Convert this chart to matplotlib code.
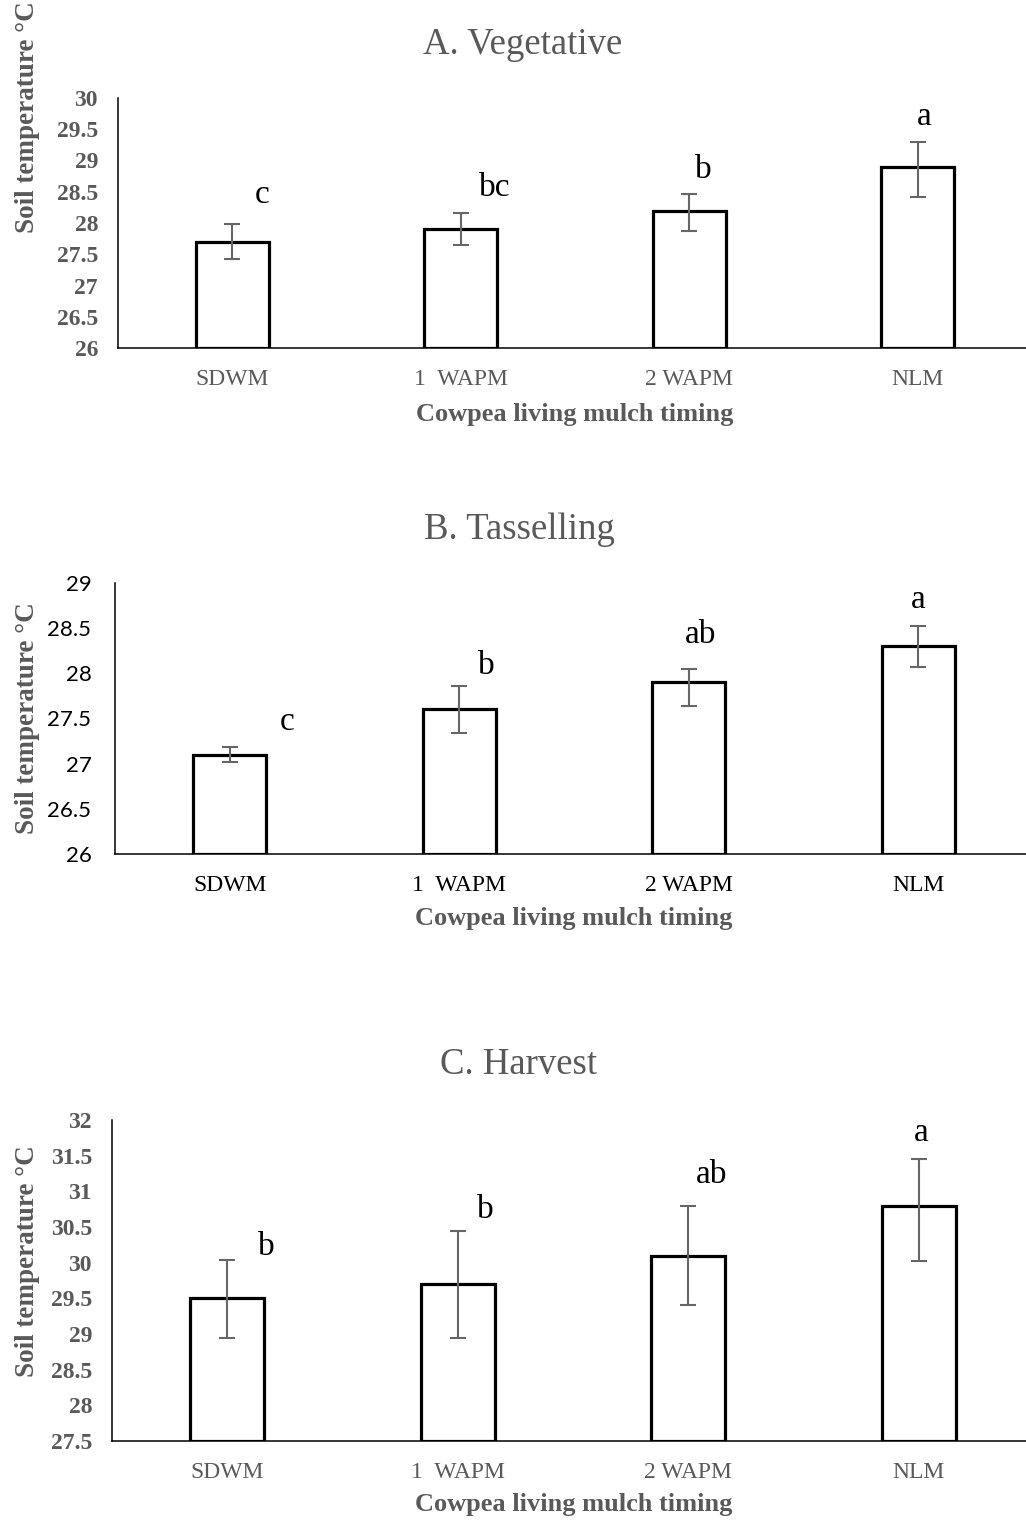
import numpy as np
import matplotlib
matplotlib.use("Agg")
import matplotlib.pyplot as plt

# Data
treatments = ["SDWM", "1  WAPM", "2 WAPM", "NLM"]

veg_mean = [27.7, 27.9, 28.2, 28.9]
veg_err_lo = [0.28, 0.25, 0.32, 0.49]
veg_err_hi = [0.29, 0.26, 0.26, 0.40]
veg_letters = ["c", "bc", "b", "a"]

tas_mean = [27.1, 27.6, 27.9, 28.3]
tas_err_lo = [0.08, 0.26, 0.26, 0.23]
tas_err_hi = [0.08, 0.26, 0.15, 0.22]
tas_letters = ["c", "b", "ab", "a"]

har_mean = [29.5, 29.7, 30.1, 30.8]
har_err_lo = [0.55, 0.75, 0.69, 0.78]
har_err_hi = [0.54, 0.74, 0.69, 0.65]
har_letters = ["b", "b", "ab", "a"]

# annotation placement (x offset from bar centre, y in data units)
veg_let_dx = [0.13, 0.15, 0.06, 0.03]
veg_let_y = [28.45, 28.56, 28.85, 29.70]
tas_let_dx = [0.25, 0.12, 0.05, 0.0]
tas_let_y = [27.46, 28.08, 28.43, 28.81]
har_let_dx = [0.17, 0.12, 0.10, 0.01]
har_let_y = [30.22, 30.74, 31.23, 31.82]

GREY = "#595959"
SERIF = "Liberation Serif"
W, H = 1026, 1522

fig = plt.figure(figsize=(W / 100, H / 100), dpi=100)


def px(x, y):
    return x / W, 1 - y / H


panels = [
    dict(mean=veg_mean, lo=veg_err_lo, hi=veg_err_hi, let=veg_letters, dx=veg_let_dx, ly=veg_let_y,
         ylim=(26, 30), yt=np.arange(26, 30.01, 0.5), box=(118, 98, 1032, 348),
         title="A. Vegetative", tpos=(523, 45), xlpos=(575, 415), ylab_y=117,
         ypad=14.4, serif_ticks=True, xcol=GREY),
    dict(mean=tas_mean, lo=tas_err_lo, hi=tas_err_hi, let=tas_letters, dx=tas_let_dx, ly=tas_let_y,
         ylim=(26, 29), yt=np.arange(26, 29.01, 0.5), box=(115, 583, 1033, 854),
         title="B. Tasselling", tpos=(519, 530), xlpos=(574, 918), ylab_y=718,
         ypad=17, serif_ticks=False, xcol="black"),
    dict(mean=har_mean, lo=har_err_lo, hi=har_err_hi, let=har_letters, dx=har_let_dx, ly=har_let_y,
         ylim=(27.5, 32), yt=np.arange(27.5, 32.01, 0.5), box=(112, 1120, 1034, 1441),
         title="C. Harvest", tpos=(519, 1065), xlpos=(574, 1505), ylab_y=1261,
         ypad=14.4, serif_ticks=True, xcol=GREY),
]

x = np.arange(len(treatments))

for p in panels:
    x0, y0, x1, y1 = p["box"]
    ax = fig.add_axes([x0 / W, 1 - y1 / H, (x1 - x0) / W, (y1 - y0) / H])
    ax.bar(x, np.array(p["mean"]) - p["ylim"][0], bottom=p["ylim"][0], width=0.32,
           color="white", edgecolor="black", linewidth=2.3, zorder=2)
    ax.errorbar(x, p["mean"], yerr=[p["lo"], p["hi"]], fmt="none", ecolor="#666666",
                elinewidth=1.5, capsize=6, capthick=1.5, zorder=3)
    for i, t in enumerate(p["let"]):
        ax.text(x[i] + p["dx"][i], p["ly"][i], t, ha="center", va="center",
                fontsize=24, family=SERIF, color="black", clip_on=False)

    ax.set_xlim(-0.5, 3.5)
    ax.set_ylim(*p["ylim"])
    ax.set_yticks(p["yt"])
    ax.set_yticklabels([f"{v:g}" for v in p["yt"]])
    ax.set_xticks(x)
    ax.set_xticklabels(treatments)
    ax.tick_params(length=0)
    ax.tick_params(axis="x", pad=15)
    ax.tick_params(axis="y", pad=p["ypad"])
    for lab in ax.get_xticklabels():
        lab.set_fontfamily(SERIF)
        lab.set_fontsize(17)
        lab.set_color(p["xcol"])
    for lab in ax.get_yticklabels():
        if p["serif_ticks"]:
            lab.set_fontfamily(SERIF)
            lab.set_fontweight("bold")
            lab.set_fontsize(17)
            lab.set_color(GREY)
        else:
            lab.set_fontfamily("Lato")
            lab.set_fontsize(16)
            lab.set_color("black")
    for s in ["top", "right"]:
        ax.spines[s].set_visible(False)
    for s in ["left", "bottom"]:
        ax.spines[s].set_linewidth(1.1)
        ax.spines[s].set_color("black")

    fig.text(*px(*p["tpos"]), p["title"], ha="center", va="center",
             fontsize=26.5, family=SERIF, color=GREY)
    fig.text(*px(*p["xlpos"]), "Cowpea living mulch timing", ha="center", va="center",
             fontsize=19, family=SERIF, fontweight="bold", color=GREY)
    fig.text(*px(28, p["ylab_y"]), "Soil temperature °C", ha="center", va="center",
             rotation=90, fontsize=19.5, family=SERIF, fontweight="bold", color=GREY)

fig.savefig("out.png", dpi=100)
